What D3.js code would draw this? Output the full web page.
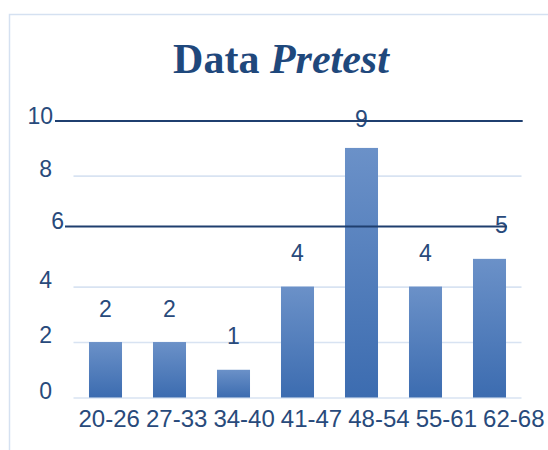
<!DOCTYPE html>
<html>
<head>
<meta charset="utf-8">
<script src="https://cdn.jsdelivr.net/npm/d3@7"></script>
<style>
  html, body { margin: 0; padding: 0; background: #ffffff; }
  svg { display: block; }
</style>
</head>
<body>
<div id="chart"></div>
<script>
// Score ranges and number of participants in each range
const categories = ["20-26", "27-33", "34-40", "41-47", "48-54", "55-61", "62-68"];
const counts = [2, 2, 1, 4, 9, 4, 5];
const yTicks = [0, 2, 4, 6, 8, 10];
// Highlighted reference levels drawn as dark rules
const ruleValues = [10, 6];

const W = 548, H = 450;
const svg = d3.select("#chart").append("svg")
  .attr("width", W).attr("height", H);

const textColor = "#284a7b";
const sans = "'Liberation Sans', Arial, sans-serif";

// frame around the chart area
svg.append("rect")
  .attr("x", 9.5).attr("y", 14.5)
  .attr("width", W + 20).attr("height", H + 20)
  .attr("fill", "#ffffff")
  .attr("stroke", "#d5e1f1")
  .attr("stroke-width", 1.5);

// title: "Data" upright, "Pretest" italic
const title = svg.append("text")
  .attr("x", 281).attr("y", 73)
  .attr("text-anchor", "middle")
  .attr("font-family", "'Liberation Serif', 'Times New Roman', serif")
  .attr("font-weight", "bold")
  .attr("font-size", 42)
  .attr("fill", "#1f487c");
title.append("tspan").text("Data ");
title.append("tspan").attr("font-style", "italic").text("Pretest");

const x = d3.scaleBand()
  .domain(categories)
  .range([73.5, 521.5])
  .paddingInner(0.484)
  .paddingOuter(0.242);

// category labels sit on a slightly wider spread than the bars
const xLabel = d3.scalePoint()
  .domain(categories)
  .range([108.7, 513.3]);

const y = d3.scaleLinear()
  .domain([0, 10])
  .range([397.5, 120.2]);

// bar fill gradient
const defs = svg.append("defs");
const grad = defs.append("linearGradient")
  .attr("id", "barGrad")
  .attr("x1", 0).attr("y1", 0).attr("x2", 0).attr("y2", 1);
grad.append("stop").attr("offset", "0%").attr("stop-color", "#6b91c8");
grad.append("stop").attr("offset", "100%").attr("stop-color", "#3c6cb0");

// light horizontal gridlines (levels with a dark rule are skipped)
svg.append("g")
  .attr("transform", `translate(${x.range()[0]},0)`)
  .call(d3.axisLeft(y)
    .tickValues(yTicks.filter(v => !ruleValues.includes(v)))
    .tickSize(-(x.range()[1] - x.range()[0]))
    .tickFormat(""))
  .call(g => g.select(".domain").remove())
  .call(g => g.selectAll(".tick line")
    .attr("stroke", "#d8e3f2")
    .attr("stroke-width", 1.6));

// bars
svg.append("g").selectAll("rect")
  .data(categories)
  .join("rect")
  .attr("x", d => x(d))
  .attr("width", x.bandwidth())
  .attr("y", (d, i) => y(counts[i]))
  .attr("height", (d, i) => y(0) - y(counts[i]))
  .attr("fill", "url(#barGrad)");

// y tick labels; the highlighted levels carry their own offsets
const tickNudge = { 10: { dx: 1, dy: 3 }, 6: { dx: 12, dy: -3 } };
svg.append("g").selectAll("text")
  .data(yTicks)
  .join("text")
  .attr("x", d => 52 + (tickNudge[d] ? tickNudge[d].dx : 0))
  .attr("y", d => y(d) + 1 + (tickNudge[d] ? tickNudge[d].dy : 0))
  .attr("text-anchor", "end")
  .attr("font-family", sans)
  .attr("font-size", 23)
  .attr("fill", textColor)
  .text(d => d);

// x axis category labels
svg.append("g")
  .attr("transform", `translate(0,${y(0)})`)
  .call(d3.axisBottom(xLabel).tickSize(0).tickPadding(0))
  .call(g => g.select(".domain").remove())
  .call(g => g.selectAll("text")
    .attr("y", 29)
    .attr("dy", 0)
    .attr("font-family", sans)
    .attr("font-size", 24)
    .attr("fill", textColor));

// value labels above the bars
const labelNudge = { "48-54": { dx: 0, dy: 5 }, "62-68": { dx: 12, dy: 0 } };
svg.append("g").selectAll("text")
  .data(categories)
  .join("text")
  .attr("x", d => x(d) + x.bandwidth() / 2 + (labelNudge[d] ? labelNudge[d].dx : 0))
  .attr("y", (d, i) => y(counts[i]) - 25.5 + (labelNudge[d] ? labelNudge[d].dy : 0))
  .attr("text-anchor", "middle")
  .attr("font-family", sans)
  .attr("font-size", 23)
  .attr("fill", textColor)
  .text((d, i) => counts[i]);

// dark reference rules
const ruleSpec = { 10: { x0: 55, x1: 522.7, dy: 0.8 }, 6: { x0: 65, x1: 507, dy: -4.5 } };
svg.append("g").selectAll("line")
  .data(ruleValues)
  .join("line")
  .attr("x1", d => ruleSpec[d].x0)
  .attr("x2", d => ruleSpec[d].x1)
  .attr("y1", d => y(d) + ruleSpec[d].dy)
  .attr("y2", d => y(d) + ruleSpec[d].dy)
  .attr("stroke", "#1f3f6f")
  .attr("stroke-width", 2);
</script>
</body>
</html>
